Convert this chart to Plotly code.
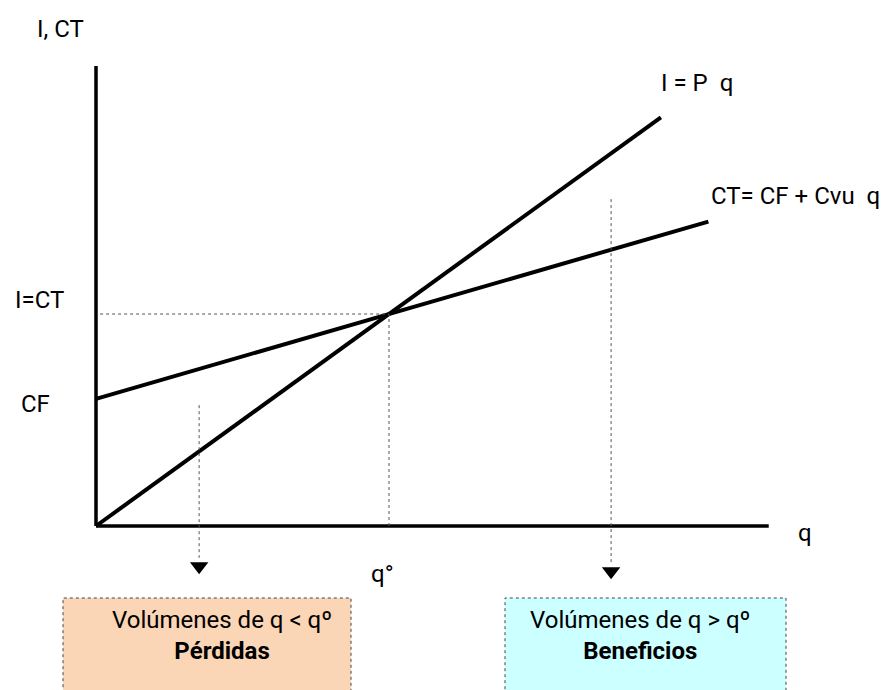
import plotly.graph_objects as go

# break-even model: I = P q, CT = CF + Cvu q
P = 10
CF = 30
CVU = 4
Q_BE = CF / (P - CVU)          # q° = 5
I_BE = P * Q_BE                # I = CT at q°

Q_I_END = [0, 9.64]            # extent of the I line
Q_CT_END = [0, 10.45]          # extent of the CT line
Q_AXIS_MAX = 11.48
Y_AXIS_MAX = 108.5
Q_LOSS = 1.76                  # arrow into the loss zone
Q_GAIN = 8.79                  # arrow into the profit zone

LABEL_I = "I = P\u00a0\u00a0q"
LABEL_CT = "CT= CF + Cvu\u00a0\u00a0q"
BOX_LOSS = "Volúmenes de q < qº<br><b>Pérdidas</b>"
BOX_GAIN = "Volúmenes de q > qº<br><b>Beneficios</b>"

FONT = "Roboto, Liberation Sans, sans-serif"
INK = "#000000"
DOT = "#555555"
PEACH = "#FAD5B6"
CYAN = "#CCFFFF"

W, H = 893, 690
X0_PX, Y0_PX = 96, 526          # origin position on the page
PX_Q, PX_Y = 58.6, 4.24         # pixels per unit

fig = go.Figure()


def line(x, y, width=3.5, dash="solid", color=INK):
    fig.add_trace(go.Scatter(x=x, y=y, mode="lines", hoverinfo="skip",
                             line=dict(color=color, width=width, dash=dash)))


# axes
line([0, 0], [0, Y_AXIS_MAX])
line([0, Q_AXIS_MAX], [0, 0])

# revenue and total cost
line(Q_I_END, [P * q for q in Q_I_END], width=4)
line(Q_CT_END, [CF + CVU * q for q in Q_CT_END], width=4)

# break-even guides
line([0.07, Q_BE], [I_BE, I_BE], width=1, dash="dot", color=DOT)
line([Q_BE, Q_BE], [0, I_BE], width=1, dash="dot", color=DOT)

# arrows to the two zones
line([Q_LOSS, Q_LOSS], [28.5, -7.5], width=1, dash="dot", color=DOT)
line([Q_GAIN, Q_GAIN], [77.1, -8.5], width=1, dash="dot", color=DOT)
fig.add_trace(go.Scatter(x=[Q_LOSS, Q_GAIN], y=[-9.5, -10.7], mode="markers", hoverinfo="skip",
                         marker=dict(symbol="triangle-down", size=16, color=INK)))

# boxes
for x0, x1, fill in [(63, 351, PEACH), (505, 786, CYAN)]:
    fig.add_shape(type="rect", xref="paper", yref="paper",
                  x0=x0 / W, x1=x1 / W, y0=-0.02, y1=1 - 598 / H,
                  fillcolor=fill, line=dict(color="#444444", width=1, dash="dot"), layer="below")


def label(text, x, y, size=24):
    fig.add_annotation(text=text, xref="paper", yref="paper", x=x / W, y=1 - y / H,
                       xanchor="center", yanchor="middle", showarrow=False,
                       font=dict(family=FONT, size=size, color=INK))


label("I, CT", 60, 29)
label(LABEL_I, 697, 83)
label(LABEL_CT, 795, 196)
label("I=CT", 39, 300)
label("CF", 35, 404)
label("q", 805, 533)
label("q°", 382, 574)
label(BOX_LOSS, 222, 635)
label(BOX_GAIN, 640, 635)

fig.update_xaxes(range=[-X0_PX / PX_Q, (W - X0_PX) / PX_Q], visible=False, fixedrange=True)
fig.update_yaxes(range=[-(H - Y0_PX) / PX_Y, Y0_PX / PX_Y], visible=False, fixedrange=True)
fig.update_layout(
    width=W, height=H,
    margin=dict(l=0, r=0, t=0, b=0),
    paper_bgcolor="white", plot_bgcolor="white",
    showlegend=False,
)

fig.write_html("out.html", config=dict(displayModeBar=False),
               post_script="document.body.style.margin='0';")
